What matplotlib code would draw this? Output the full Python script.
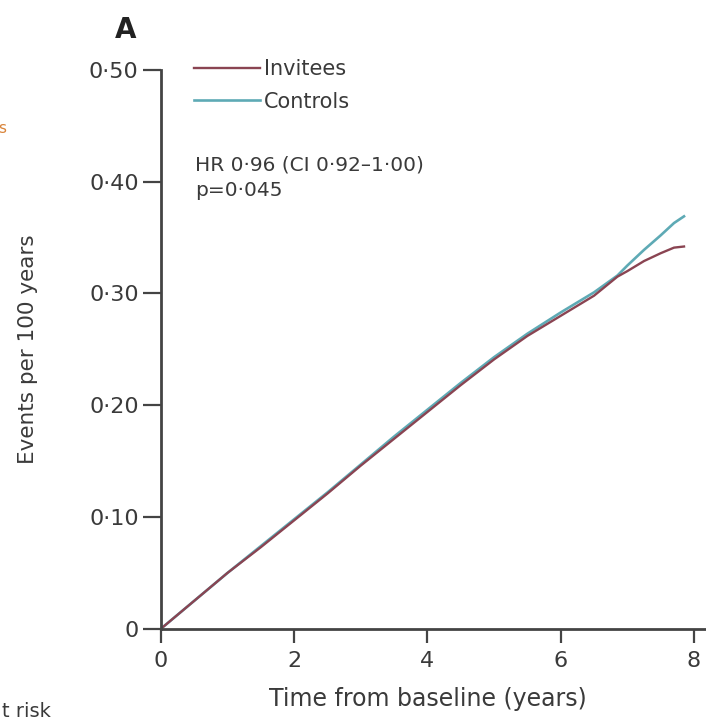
import matplotlib.pyplot as plt

# data
years = [0, 0.5, 1, 1.5, 2, 2.5, 3, 3.5, 4, 4.5, 5, 5.5, 6, 6.5, 6.85, 7.0, 7.25, 7.5, 7.7, 7.85]
invitees = [0, 0.025, 0.050, 0.073, 0.097, 0.121, 0.146, 0.170, 0.194, 0.218, 0.241, 0.262, 0.280, 0.298, 0.315, 0.320, 0.329, 0.336, 0.341, 0.342]
controls = [0, 0.025, 0.050, 0.074, 0.098, 0.122, 0.147, 0.172, 0.196, 0.220, 0.243, 0.264, 0.283, 0.301, 0.316, 0.325, 0.339, 0.352, 0.363, 0.369]

yticks = [0, 0.10, 0.20, 0.30, 0.40, 0.50]
ytick_labels = ['0', '0·10', '0·20', '0·30', '0·40', '0·50']
xticks = [0, 2, 4, 6, 8]

txt = '#3a3a3a'
plt.rcParams['font.family'] = ['DejaVu Sans']
fig = plt.figure(figsize=(7.06, 7.21), dpi=100)
ax = fig.add_axes([0.228, 0.128, 0.772, 0.775])

ax.plot(years, controls, color='#5eaab5', lw=1.9, label='Controls')
ax.plot(years, invitees, color='#8a4452', lw=1.7, label='Invitees')

ax.set_xlim(0, 8.18)
ax.set_ylim(0, 0.50)
ax.set_yticks(yticks)
ax.set_yticklabels(ytick_labels)
ax.set_xticks(xticks)
ax.tick_params(axis='y', colors='#444444', labelcolor=txt, labelsize=16, width=1.6, length=13, pad=3)
ax.tick_params(axis='x', colors='#444444', labelcolor=txt, labelsize=16, width=1.6, length=10, pad=6)

for s in ['top', 'right']:
    ax.spines[s].set_visible(False)
for s in ['left', 'bottom']:
    ax.spines[s].set_color('#444444')
    ax.spines[s].set_linewidth(2)

# legend
h, l = ax.get_legend_handles_labels()
leg = ax.legend([h[1], h[0]], [l[1], l[0]], loc='upper left', bbox_to_anchor=(0.045, 1.034),
                frameon=False, fontsize=15, handlelength=3.2, handletextpad=0.15,
                labelspacing=0.6, borderaxespad=0)
for t in leg.get_texts():
    t.set_color(txt)

ax.text(0.062, 0.847, 'HR 0·96 (CI 0·92–1·00)\np=0·045', transform=ax.transAxes,
        fontsize=14.5, color=txt, va='top', linespacing=1.45)

ax.set_xlabel('Time from baseline (years)', fontsize=17, color=txt)
ax.xaxis.set_label_coords(0.49, -0.105)
ax.set_ylabel('Events per 100 years', fontsize=15.5, color=txt)
ax.yaxis.set_label_coords(-0.226, 0.5)

fig.text(0.178, 0.958, 'A', fontsize=20, fontweight='bold', color='#222222', ha='center', va='center')
fig.text(-0.002, 0.822, 's', fontsize=11, color='#d9843a', ha='left', va='center')
fig.text(0.003, 0.0, 't risk', fontsize=14, color=txt, ha='left', va='bottom')

fig.savefig('out.png', dpi=100)
